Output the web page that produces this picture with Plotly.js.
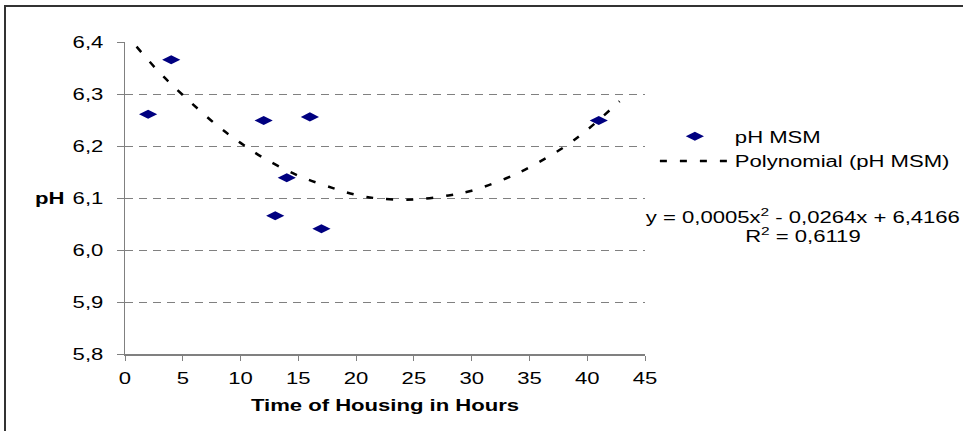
<!DOCTYPE html>
<html>
<head>
<meta charset="utf-8">
<script src="https://cdn.plot.ly/plotly-3.0.1.min.js"></script>
<style>
  html, body { margin: 0; padding: 0; background: #ffffff; }
  #frame { position: absolute; left: 4px; top: 5px; width: 970px; height: 440px;
           border-top: 2px solid #333333; border-left: 2px solid #333333; }
  #chart { position: absolute; left: 0; top: 0; width: 963px; height: 431px; }
</style>
</head>
<body>
<div id="frame"></div>
<div id="chart"></div>
<script>
// Measured series: pH MSM vs time of housing (hours)
var hours = [2, 4, 12, 13, 14, 16, 17, 41];
var phValues = [6.261, 6.366, 6.249, 6.066, 6.139, 6.256, 6.041, 6.249];

// Polynomial trendline, values
var trendHours = [1, 3, 5, 8, 10, 12, 15, 18, 20, 22, 25, 28, 30, 33, 35, 38, 40, 42.8];
var trendValues = [6.391, 6.341, 6.298, 6.239, 6.206, 6.177, 6.143, 6.119, 6.106, 6.099, 6.097, 6.105, 6.114, 6.138, 6.159, 6.198, 6.231, 6.286];

var legendLabels = ['pH MSM', 'Polynomial (pH MSM)'];
var xTitle = 'Time of Housing in Hours';
var yTitle = 'pH';
var equationLine = 'y = 0,0005x<sup>2</sup> - 0,0264x + 6,4166';
var r2Line = 'R<sup>2</sup> = 0,6119';

var FONT = 'Liberation Sans, Arial, sans-serif';
var FS = 16;
var STRETCH = 1.38;   // the reference text is drawn horizontally widened

var traces = [
  {
    x: hours, y: phValues, type: 'scatter', mode: 'markers', name: legendLabels[0],
    legendgroup: 'a',
    marker: { symbol: 'diamond-wide', size: 13, color: '#000080' }
  },
  {
    x: trendHours, y: trendValues, type: 'scatter', mode: 'lines', name: legendLabels[1],
    legendgroup: 'b',
    line: { color: '#000000', width: 2.5, dash: '7px,13px', shape: 'spline' }
  }
];

var layout = {
  width: 963, height: 431,
  margin: { l: 125, r: 318, t: 42, b: 77 },
  paper_bgcolor: 'rgba(0,0,0,0)', plot_bgcolor: 'rgba(0,0,0,0)',
  separators: ',.',
  font: { family: FONT, size: FS, color: '#000000' },
  showlegend: true,
  legend: {
    x: 1.019, y: 0.752, xanchor: 'left', yanchor: 'top',
    font: { family: FONT, size: FS, color: '#000000' },
    itemwidth: 70, tracegroupgap: 1, traceorder: 'grouped',
    bgcolor: 'rgba(0,0,0,0)'
  },
  xaxis: {
    range: [0, 45], dtick: 5, tick0: 0, showgrid: false, zeroline: false,
    showline: true, linecolor: '#808080', linewidth: 1.5,
    ticks: 'outside', ticklen: 5, tickcolor: '#808080', tickwidth: 1,
    ticklabelstandoff: 4,
    tickfont: { family: FONT, size: FS, color: '#000000' },
    title: { text: '<b>' + xTitle + '</b>', font: { family: FONT, size: FS, color: '#000000' }, standoff: 14 }
  },
  yaxis: {
    range: [5.8, 6.4], dtick: 0.1, tick0: 5.8, tickformat: '.1f', zeroline: false,
    showgrid: true, gridcolor: '#808080', gridwidth: 1, griddash: '8px,6px',
    showline: true, linecolor: '#808080', linewidth: 1.5,
    ticks: 'outside', ticklen: 7, tickcolor: '#808080', tickwidth: 1,
    ticklabelstandoff: 10,
    tickfont: { family: FONT, size: FS, color: '#000000' }
  },
  annotations: [
    { xref: 'paper', yref: 'y', x: -0.1452, y: 6.1, xanchor: 'center', yanchor: 'middle',
      text: '<b>' + yTitle + '</b>', showarrow: false,
      font: { family: FONT, size: FS, color: '#000000' } },
    { xref: 'paper', yref: 'paper', x: 1.3029, y: 0.4423, xanchor: 'center', yanchor: 'middle',
      text: equationLine, showarrow: false,
      font: { family: FONT, size: FS, color: '#000000' } },
    { xref: 'paper', yref: 'paper', x: 1.3029, y: 0.3814, xanchor: 'center', yanchor: 'middle',
      text: r2Line, showarrow: false,
      font: { family: FONT, size: FS, color: '#000000' } }
  ]
};

function widenTexts(gd, s) {
  gd.querySelectorAll('.legend [clip-path], .annotation [clip-path]').forEach(function (el) {
    el.removeAttribute('clip-path');
  });
  var texts = gd.querySelectorAll('svg text');
  texts.forEach(function (t) {
    var x = parseFloat(t.getAttribute('x')) || 0;
    var tr = t.getAttribute('transform') || '';
    t.setAttribute('transform', tr + ' translate(' + (x * (1 - s)) + ',0) scale(' + s + ',1)');
  });
}

Plotly.newPlot('chart', traces, layout, { displayModeBar: false, staticPlot: true })
  .then(function (gd) { widenTexts(gd, STRETCH); });
</script>
</body>
</html>
